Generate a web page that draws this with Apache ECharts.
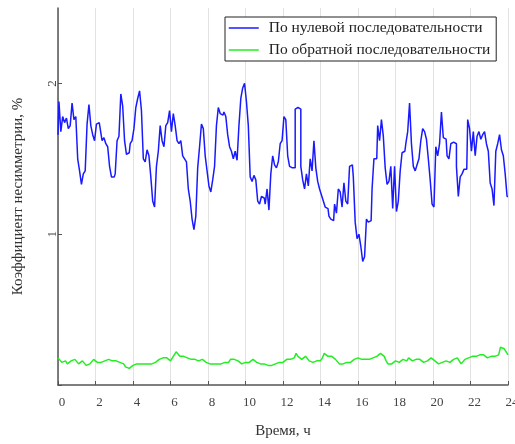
<!DOCTYPE html>
<html>
<head>
<meta charset="utf-8">
<script src="https://cdn.jsdelivr.net/npm/echarts@6/dist/echarts.min.js"></script>
<style>html,body{margin:0;padding:0;background:#fff}#c{width:515px;height:444px}</style>
</head>
<body>
<div id="c"></div>
<script>
// Sampling step of the recordings, hours
const sampleStep = 0.1;
const xTicks = [0, 2, 4, 6, 8, 10, 12, 14, 16, 18, 20, 22, 24];
const yTicks = [1, 2];
const seriesNames = ['По нулевой последовательности', 'По обратной последовательности'];

// Коэффициент несимметрии по нулевой последовательности, %
const zeroSeq = [
1.66,1.88,1.68,1.78,1.74,1.77,1.70,1.72,1.87,1.76,
1.78,1.50,1.42,1.33,1.40,1.42,1.73,1.86,1.72,1.66,
1.62,1.73,1.74,1.70,1.62,1.64,1.60,1.58,1.45,1.38,
1.38,1.40,1.62,1.65,1.93,1.85,1.62,1.53,1.54,1.60,
1.62,1.70,1.84,1.90,1.95,1.82,1.50,1.48,1.56,1.52,
1.38,1.22,1.18,1.45,1.55,1.72,1.62,1.58,1.72,1.74,
1.82,1.68,1.80,1.72,1.62,1.60,1.62,1.52,1.50,1.48,
1.30,1.22,1.10,1.03,1.12,1.44,1.58,1.73,1.70,1.52,
1.42,1.32,1.28,1.36,1.45,1.72,1.84,1.80,1.79,1.81,
1.78,1.66,1.58,1.55,1.50,1.55,1.49,1.72,1.90,1.97,
2.00,1.88,1.72,1.38,1.35,1.39,1.36,1.22,1.20,1.25,
1.24,1.20,1.30,1.16,1.40,1.52,1.46,1.44,1.48,1.60,
1.62,1.78,1.76,1.52,1.45,1.44,1.44,1.83,1.84,1.83,
1.45,1.36,1.30,1.40,1.32,1.50,1.42,1.62,1.44,1.35,
1.30,1.26,1.22,1.18,1.17,1.12,1.10,1.09,1.20,1.14,
1.30,1.28,1.18,1.34,1.22,1.20,1.45,1.46,1.38,1.08,
0.97,1.00,0.92,0.82,0.85,1.10,1.08,1.09,1.30,1.50,
1.50,1.72,1.62,1.76,1.65,1.44,1.33,1.35,1.45,1.17,
1.45,1.15,1.22,1.42,1.54,1.55,1.60,1.68,1.87,1.60,
1.45,1.42,1.46,1.50,1.62,1.70,1.68,1.63,1.50,1.36,
1.20,1.18,1.58,1.52,1.60,1.81,1.64,1.63,1.52,1.50,
1.60,1.61,1.60,1.45,1.25,1.38,1.40,1.43,1.43,1.76,
1.70,1.55,1.68,1.52,1.65,1.68,1.63,1.66,1.68,1.60,
1.55,1.34,1.30,1.19,1.55,1.60,1.66,1.56,1.52,1.40,
1.25
];

// Коэффициент несимметрии по обратной последовательности, %
const negSeq = [
0.18,0.17,0.15,0.15,0.16,0.14,0.15,0.16,0.15,0.17,
0.16,0.14,0.15,0.16,0.15,0.13,0.12,0.14,0.15,0.17,
0.17,0.15,0.16,0.15,0.15,0.16,0.15,0.17,0.18,0.16,
0.17,0.16,0.16,0.15,0.15,0.14,0.12,0.11,0.11,0.12,
0.13,0.13,0.14,0.14,0.14,0.13,0.14,0.14,0.14,0.15,
0.14,0.15,0.15,0.16,0.17,0.16,0.18,0.19,0.18,0.17,
0.16,0.17,0.20,0.22,0.21,0.19,0.19,0.19,0.18,0.18,
0.17,0.17,0.16,0.17,0.17,0.16,0.16,0.17,0.16,0.15,
0.15,0.14,0.15,0.14,0.13,0.14,0.13,0.14,0.15,0.15,
0.16,0.15,0.17,0.18,0.17,0.16,0.16,0.15,0.14,0.14,
0.15,0.14,0.15,0.16,0.17,0.17,0.15,0.14,0.14,0.15,
0.14,0.13,0.13,0.13,0.13,0.14,0.14,0.14,0.15,0.15,
0.15,0.16,0.17,0.16,0.17,0.18,0.18,0.21,0.19,0.19,
0.17,0.18,0.19,0.18,0.16,0.15,0.15,0.15,0.16,0.16,
0.16,0.18,0.21,0.21,0.19,0.19,0.19,0.18,0.17,0.16,
0.14,0.14,0.14,0.14,0.15,0.14,0.15,0.16,0.17,0.17,
0.18,0.17,0.17,0.17,0.17,0.18,0.17,0.18,0.18,0.19,
0.19,0.18,0.21,0.20,0.19,0.16,0.14,0.13,0.14,0.15,
0.16,0.16,0.15,0.16,0.17,0.16,0.16,0.18,0.17,0.16,
0.16,0.17,0.16,0.17,0.16,0.15,0.16,0.16,0.17,0.18,
0.17,0.16,0.16,0.14,0.13,0.15,0.15,0.16,0.16,0.15,
0.16,0.17,0.16,0.18,0.17,0.14,0.15,0.17,0.18,0.18,
0.18,0.19,0.20,0.19,0.20,0.20,0.19,0.20,0.19,0.18,
0.18,0.19,0.19,0.19,0.18,0.20,0.25,0.26,0.24,0.24,
0.20
];

const hours = zeroSeq.map((_, i) => +(i * sampleStep).toFixed(1));
const zeroData = hours.map((h, i) => [h, zeroSeq[i]]);
const negData = hours.map((h, i) => [h, negSeq[i]]);

const serif = '"Liberation Serif", "DejaVu Serif", serif';
const chart = echarts.init(document.getElementById('c'), null, {renderer: 'canvas'});
chart.setOption({
  animation: false,
  backgroundColor: '#ffffff',
  grid: {left: 58, right: 7, top: 8, bottom: 59, containLabel: false, outerBoundsMode: 'none'},
  legend: {
    orient: 'vertical',
    left: 225, top: 17,
    backgroundColor: '#ffffff',
    borderColor: '#222',
    borderWidth: 1,
    borderRadius: 0,
    padding: [3, 6, 3, 3],
    itemWidth: 30, itemHeight: 14, itemGap: 6,
    itemStyle: {opacity: 0},
    lineStyle: {width: 1.5},
    textStyle: {fontFamily: serif, fontSize: 15.5, color: '#222', padding: [0, 0, 0, 5]},
    data: seriesNames
  },
  xAxis: {
    type: 'value', min: 0, max: 24, interval: 2,
    name: 'Время, ч', nameLocation: 'middle', nameGap: 39,
    nameTextStyle: {fontFamily: serif, fontSize: 15, color: '#333'},
    axisLine: {show: true, lineStyle: {color: '#555', width: 1.5}},
    axisTick: {show: true, inside: true, length: 4, lineStyle: {color: '#555'}},
    axisLabel: {fontFamily: serif, fontSize: 13, color: '#444', margin: 11, padding: [0, 0, 0, 8],
      formatter: v => xTicks.includes(v) ? String(v) : ''},
    splitLine: {show: true, lineStyle: {color: '#e2e2e2', width: 1}}
  },
  yAxis: {
    type: 'value', min: 0, max: 2.5, interval: 1,
    name: 'Коэффициент несимметрии, %', nameLocation: 'middle', nameGap: 32,
    nameTextStyle: {fontFamily: serif, fontSize: 15, color: '#333'},
    axisLine: {show: true, lineStyle: {color: '#555', width: 1.5}},
    axisTick: {show: true, inside: true, length: 4, lineStyle: {color: '#555'}},
    axisLabel: {fontFamily: serif, fontSize: 13, color: '#444', margin: -1, rotate: 90,
      showMaxLabel: false,
      formatter: v => yTicks.includes(v) ? String(v) : ''},
    splitLine: {show: false}
  },
  series: [
    {name: seriesNames[0], type: 'line', data: zeroData, symbol: 'none', step: 'middle',
     lineStyle: {color: '#1a1aff', width: 1.5}, itemStyle: {color: '#1a1aff'}},
    {name: seriesNames[1], type: 'line', data: negData, symbol: 'none',
     lineStyle: {color: '#22ee22', width: 1.5}, itemStyle: {color: '#22ee22'}}
  ]
});
</script>
</body>
</html>
